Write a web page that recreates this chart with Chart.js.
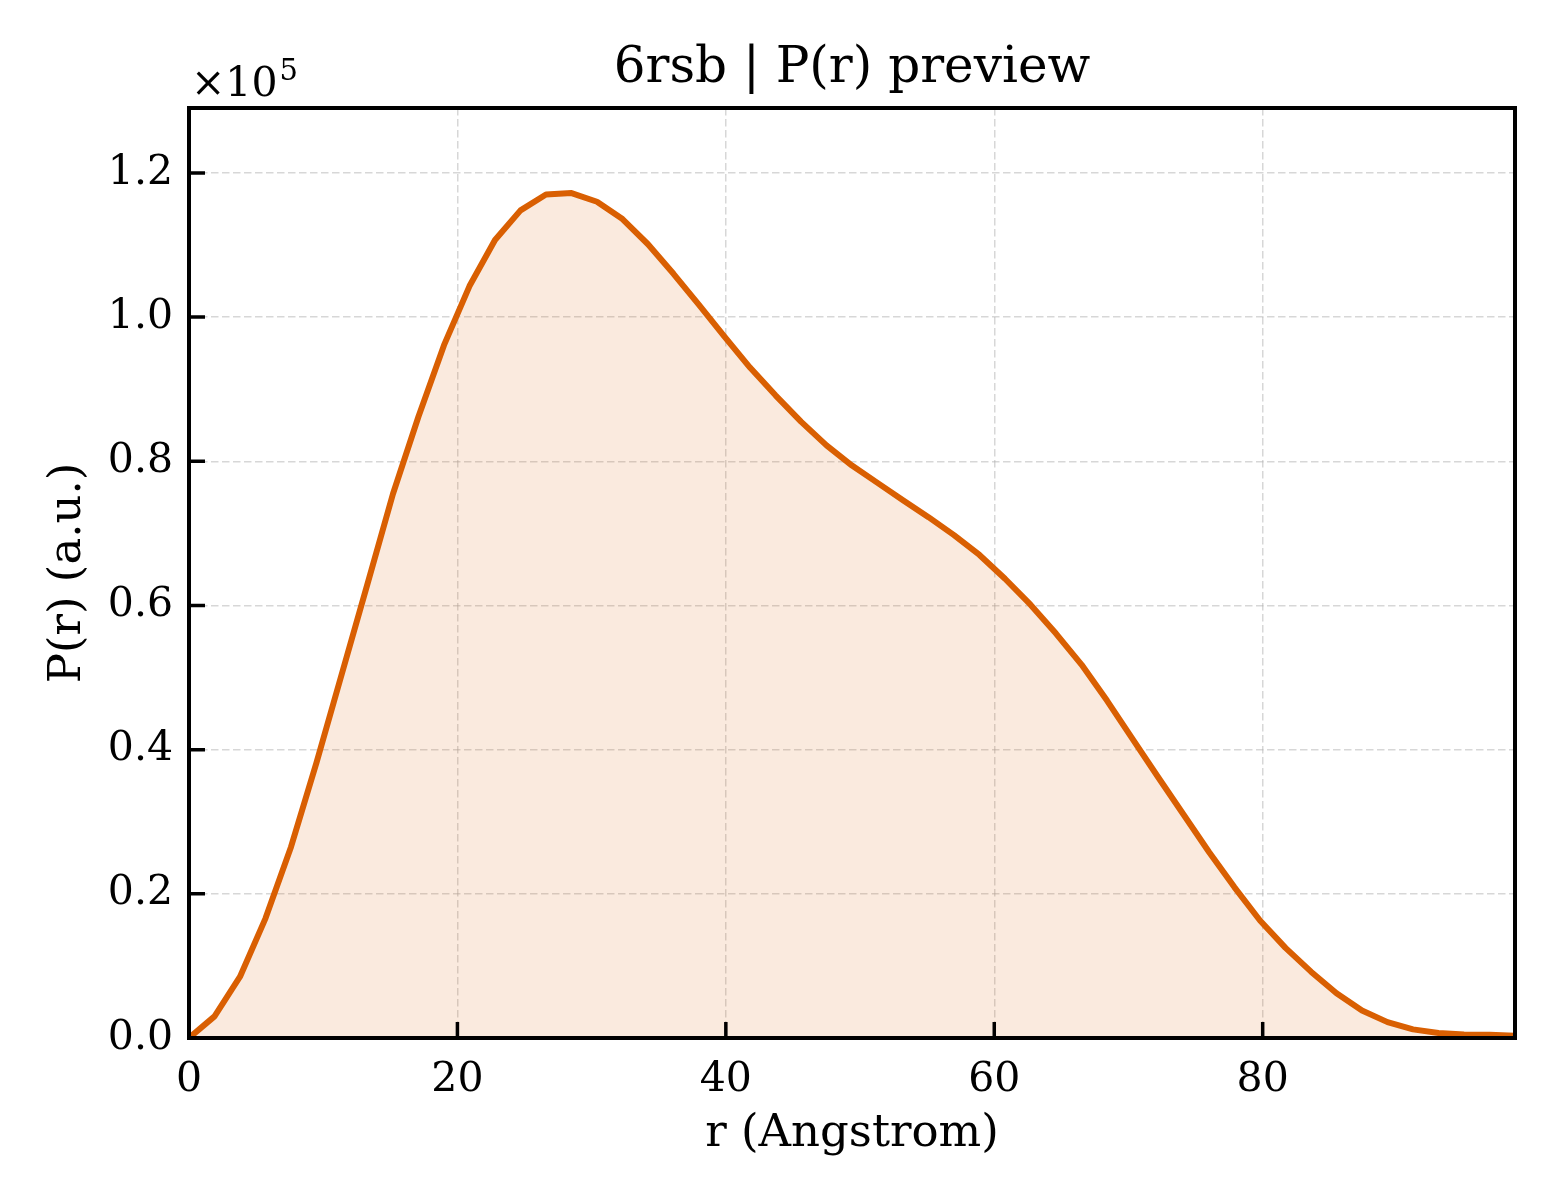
<!DOCTYPE html>
<html>
<head>
<meta charset="utf-8">
<title>6rsb | P(r) preview</title>
<script src="https://cdn.jsdelivr.net/npm/chart.js@4.4.1/dist/chart.umd.min.js"></script>
<style>
  html, body { margin: 0; padding: 0; background: #ffffff; }
  #prChart { display: block; }
</style>
</head>
<body>
<canvas id="prChart" width="1560" height="1200"></canvas>
<script>
// r grid (Angstrom) and P(r)
const rValues = [
  0, 1.9, 3.8, 5.7, 7.6, 9.5, 11.4, 13.3, 15.2, 17.1,
  19.0, 20.9, 22.8, 24.7, 26.6, 28.5, 30.4, 32.3, 34.2, 36.1,
  38.0, 39.9, 41.8, 43.7, 45.6, 47.5, 49.4, 51.3, 53.2, 55.1,
  57.0, 58.9, 60.8, 62.7, 64.6, 66.5, 68.4, 70.3, 72.2, 74.1,
  76.0, 77.9, 79.8, 81.7, 83.6, 85.5, 87.4, 89.3, 91.2, 93.1,
  95.0, 96.9, 98.8,
];

const prValues = [
  0, 3000, 8500, 16600, 26500, 38200, 50600, 63000, 75500, 86200,
  96100, 104300, 110700, 114800, 117000, 117200, 116000, 113600, 110100, 106000,
  101700, 97300, 93000, 89150, 85500, 82200, 79400, 77000, 74600, 72250,
  69750, 67000, 63700, 60100, 56100, 51800, 46800, 41500, 36200, 31000,
  25800, 20900, 16300, 12500, 9200, 6200, 3800, 2200, 1200, 700,
  500, 450, 300,
];

const xTickValues = [0, 20, 40, 60, 80];
const yTickValues = [0, 20000, 40000, 60000, 80000, 100000, 120000];
const xMax = 98.8;
const yMax = 129000;

const LINE_COLOR = '#d95f02';
const FILL_COLOR = 'rgba(217, 95, 2, 0.13)';
const GRID_COLOR = 'rgba(176, 176, 176, 0.5)';
const SERIF = "'DejaVu Serif', 'Liberation Serif', serif";

/* -----------------------------
   Frame, inward ticks, offset text
------------------------------ */

const framePlugin = {
  id: 'frame',
  afterDraw(chart) {
    const { ctx, chartArea: area, scales } = chart;
    const tickLen = 16;
    ctx.save();
    ctx.strokeStyle = '#000';
    ctx.lineCap = 'butt';

    // inward ticks on left and bottom only
    ctx.lineWidth = 3.5;
    ctx.beginPath();
    scales.x.ticks.forEach((t) => {
      const px = scales.x.getPixelForValue(t.value);
      ctx.moveTo(px, area.bottom);
      ctx.lineTo(px, area.bottom - tickLen);
    });
    scales.y.ticks.forEach((t) => {
      const py = scales.y.getPixelForValue(t.value);
      ctx.moveTo(area.left, py);
      ctx.lineTo(area.left + tickLen, py);
    });
    ctx.stroke();

    ctx.lineWidth = 4;
    ctx.strokeRect(area.left, area.top, area.right - area.left, area.bottom - area.top);

    // scientific offset label
    ctx.fillStyle = '#000';
    ctx.textBaseline = 'alphabetic';
    ctx.font = `41px ${SERIF}`;
    const base = '\u00d710';
    ctx.fillText(base, area.left + 2, area.top - 12);
    const w = ctx.measureText(base).width;
    ctx.font = `29px ${SERIF}`;
    ctx.fillText('5', area.left + 4 + w, area.top - 28);
    ctx.restore();
  },
};

/* -----------------------------
   Chart
------------------------------ */

const points = rValues.map((r, i) => ({ x: r, y: prValues[i] }));
const toTicks = (values) => values.map((value) => ({ value }));

new Chart(document.getElementById('prChart'), {
  type: 'line',
  data: {
    datasets: [
      {
        data: points,
        borderColor: LINE_COLOR,
        backgroundColor: FILL_COLOR,
        borderWidth: 6,
        fill: 'origin',
        tension: 0,
        pointRadius: 0,
        pointHoverRadius: 0,
        borderJoinStyle: 'round',
        borderCapStyle: 'round',
      },
    ],
  },
  options: {
    responsive: false,
    devicePixelRatio: 1,
    animation: false,
    layout: { padding: { left: 0, right: 45, top: 0, bottom: 0 } },
    plugins: {
      legend: { display: false },
      tooltip: { enabled: false },
      title: {
        display: true,
        text: '6rsb | P(r) preview',
        color: '#000',
        fullSize: false,
        font: { family: SERIF, size: 50, weight: 'normal' },
        padding: { top: 39, bottom: 9 },
      },
    },
    scales: {
      x: {
        type: 'linear',
        min: 0,
        max: xMax,
        afterBuildTicks: (scale) => { scale.ticks = toTicks(xTickValues); },
        afterFit: (scale) => { scale.height = 162; },
        grid: { color: GRID_COLOR, lineWidth: 1.5, drawTicks: false },
        border: { display: false, dash: [7.5, 3.5] },
        ticks: {
          maxRotation: 0,
          autoSkip: false,
          padding: 18,
          color: '#000',
          font: { family: SERIF, size: 41 },
          callback: (v) => String(v),
        },
        title: {
          display: true,
          text: 'r (Angstrom)',
          color: '#000',
          font: { family: SERIF, size: 45 },
          padding: { top: 0, bottom: 39 },
        },
      },
      y: {
        type: 'linear',
        min: 0,
        max: yMax,
        afterBuildTicks: (scale) => { scale.ticks = toTicks(yTickValues); },
        afterFit: (scale) => { scale.width = 189; },
        grid: { color: GRID_COLOR, lineWidth: 1.5, drawTicks: false },
        border: { display: false, dash: [7.5, 3.5] },
        ticks: {
          autoSkip: false,
          padding: 16,
          color: '#000',
          font: { family: SERIF, size: 41 },
          callback: (v) => (v / 1e5).toFixed(1),
        },
        title: {
          display: true,
          text: 'P(r) (a.u.)',
          color: '#000',
          font: { family: SERIF, size: 45 },
          padding: { top: 41, bottom: 0 },
        },
      },
    },
  },
  plugins: [framePlugin],
});
</script>
</body>
</html>
